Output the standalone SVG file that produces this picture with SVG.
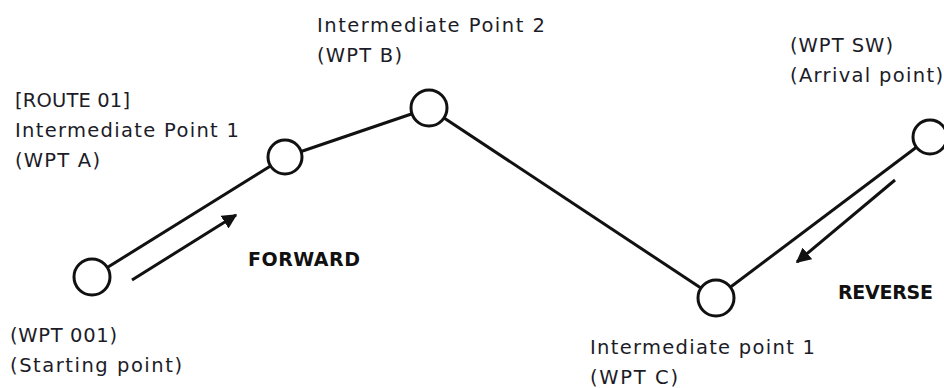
<svg xmlns="http://www.w3.org/2000/svg" width="944" height="388" viewBox="0 0 944 388">
<defs>
<style>
.wp{fill:#fff;stroke:#111;stroke-width:3}
.ln{stroke:#111;stroke-width:3;fill:none}
.lbl{font-family:"DejaVu Sans","Open Sans",sans-serif;font-size:19.5px;fill:#1c1c28}
.dir{font-family:"DejaVu Sans","Open Sans",sans-serif;font-size:19px;font-weight:bold;fill:#111}
</style>
<marker id="ah" viewBox="0 0 10 10" refX="9" refY="5" markerWidth="5" markerHeight="5" orient="auto" markerUnits="strokeWidth">
<path d="M0,0 L10,5 L0,10 z" fill="#111"/>
</marker>
</defs>
<rect width="944" height="388" fill="#fff"/>
<g id="connectors">
<line class="ln" x1="92" y1="277" x2="285" y2="157"/>
<line class="ln" x1="285" y1="157" x2="429" y2="108"/>
<line class="ln" x1="429" y1="108" x2="716" y2="298"/>
<line class="ln" x1="716" y1="298" x2="930" y2="137"/>
<line id="forward-arrow" class="ln" x1="132" y1="280" x2="236" y2="215" marker-end="url(#ah)"/>
<line id="reverse-arrow" class="ln" x1="895" y1="180" x2="797" y2="262" marker-end="url(#ah)"/>
</g>
<g id="wpt001"><circle class="wp" cx="92" cy="277" r="18"/>
<text class="lbl" x="10" y="342" textLength="107">(WPT 001)</text>
<text class="lbl" x="10" y="372" textLength="172">(Starting point)</text></g>
<g id="wptA"><circle class="wp" cx="285" cy="157" r="17"/>
<text class="lbl" x="15" y="107" textLength="115">[ROUTE 01]</text>
<text class="lbl" x="15" y="137" textLength="224">Intermediate Point 1</text>
<text class="lbl" x="15" y="167" textLength="85">(WPT A)</text></g>
<g id="wptB"><circle class="wp" cx="429" cy="108" r="18"/>
<text class="lbl" x="317" y="32" textLength="228">Intermediate Point 2</text>
<text class="lbl" x="317" y="62" textLength="85">(WPT B)</text></g>
<g id="wptC"><circle class="wp" cx="716" cy="298" r="18"/>
<text class="lbl" x="590" y="354" textLength="225">Intermediate point 1</text>
<text class="lbl" x="590" y="384" textLength="88">(WPT C)</text></g>
<g id="wptSW"><circle class="wp" cx="930" cy="137" r="17"/>
<text class="lbl" x="790" y="52" textLength="103">(WPT SW)</text>
<text class="lbl" x="790" y="82" textLength="153">(Arrival point)</text></g>
<g id="labels">
<text class="dir" x="248" y="266" textLength="112">FORWARD</text>
<text class="dir" x="838" y="299" textLength="95">REVERSE</text>
</g>
</svg>
